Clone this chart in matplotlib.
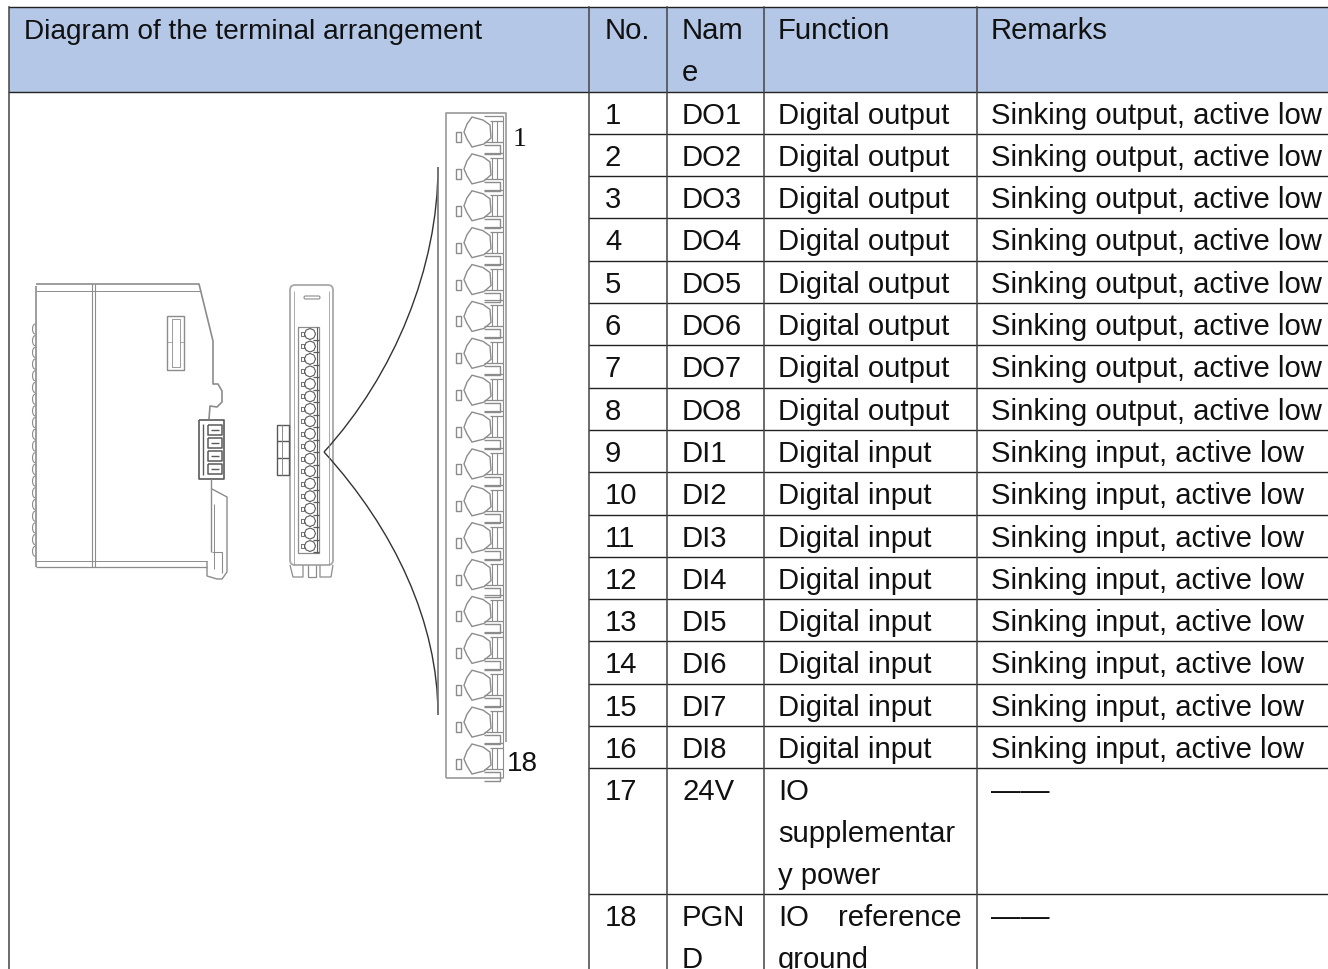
import matplotlib
matplotlib.use("Agg")
import matplotlib.pyplot as plt
from matplotlib.patches import FancyBboxPatch, PathPatch, Polygon, Rectangle
from matplotlib.path import Path
import numpy as np

plt.rcParams["font.family"] = ["Liberation Sans", "DejaVu Sans"]

header = ["Diagram of the terminal arrangement", "No.", "Nam\ne", "Function", "Remarks"]
numbers = [str(i) for i in range(1, 19)]
names = ["DO1", "DO2", "DO3", "DO4", "DO5", "DO6", "DO7", "DO8",
         "DI1", "DI2", "DI3", "DI4", "DI5", "DI6", "DI7", "DI8", "24V", "PGN\nD"]
functions = ["Digital output"] * 8 + ["Digital input"] * 8 + ["IO\nsupplementar\ny power", "IO\nground"]
remarks = ["Sinking output, active low"] * 8 + ["Sinking input, active low"] * 8 + ["——", "——"]

row_lines = [93, 135, 177, 219, 262, 304, 346, 389, 431, 473, 516, 558, 600, 642, 685, 727, 769, 895]
col_lines = [9, 589, 667, 764, 977]
text_x = [24, 605, 682, 778, 991]

W, H = 1328, 970
FS = 21.1
INK = "#111111"
ART = "#8c8c8c"
DARK = "#5a5a5a"

fig = plt.figure(figsize=(W / 100, H / 100), dpi=100)
ax = fig.add_axes([0, 0, 1, 1])
ax.set_xlim(0, W)
ax.set_ylim(H, 0)
ax.axis("off")


def cell(x, top, txt, fs=FS):
    for j, line in enumerate(txt.split("\n")):
        ax.text(x, top + 31 + j * 42, line, fontsize=fs, color=INK, va="baseline", ha="left")


def art(xs, ys, lw=1.0, color=ART):
    ax.plot(xs, ys, color=color, lw=lw, solid_capstyle="butt")


def box(x0, y0, x1, y1, lw=1.0, color=ART):
    art([x0, x1, x1, x0, x0], [y0, y0, y1, y1, y0], lw, color)


# table
ax.add_patch(Rectangle((9, 8), W - 9, 85, fc="#B4C7E7", ec="none", zorder=0))
for y in [8, 93] + row_lines[1:]:
    x0 = 9 if y in (8, 93) else 589
    ax.plot([x0, W], [y, y], color="#222222", lw=1.0, zorder=1)
for x in col_lines:
    ax.plot([x, x], [8, H], color="#444444", lw=1.1, zorder=1)

cell(text_x[0], 8, header[0], 20.15)
for x, txt in zip(text_x[1:], header[1:]):
    cell(x, 8, txt)
for i, top in enumerate(row_lines):
    cell(text_x[1], top, numbers[i])
    cell(text_x[2], top, names[i])
    if i == 17:
        ax.text(text_x[3], top + 31, "IO", fontsize=FS, color=INK)
        ax.text(961, top + 31, "reference", fontsize=FS, color=INK, ha="right")
        ax.text(text_x[3], top + 73, "ground", fontsize=FS, color=INK)
    else:
        cell(text_x[3], top, functions[i])
    cell(text_x[4], top, remarks[i])

# side view of the module
art([36, 36], [287, 568], 1.2)
art([36, 199, 213, 213, 218, 222, 222, 217, 210, 209],
    [285, 285, 342, 385, 385, 392, 403, 408, 407, 420], 1.2)
art([36, 201], [292, 292], 0.7)
art([36, 207], [562, 562], 0.7)
art([36, 207], [568, 568], 0.9)
art([92, 92], [285, 568], 0.8)
art([95, 95], [285, 568], 0.8)
box(167, 317, 184, 371)
box(172, 320, 180, 368, 0.6)
art([167, 172], [343, 343], 0.5)
art([180, 184], [343, 343], 0.5)

# connector
box(199, 421, 224, 480, 1.2, DARK)
for k in range(4):
    box(208, 426 + k * 13, 222, 436 + k * 13, 1.1, DARK)
    art([211, 219], [431 + k * 13, 431 + k * 13], 1.0, DARK)
art([203, 203], [425, 476], 1.0, DARK)

# lower latch
art([211, 211], [480, 553])
art([212, 227, 227, 222, 217, 207, 207], [490, 498, 573, 580, 580, 577, 562])
art([214, 214], [505, 570], 0.7)
art([212, 222, 222], [553, 553, 574], 0.8)

# scallops on the left edge
for y in np.arange(325, 548, 11.7):
    t = np.linspace(0, np.pi, 9)
    ax.plot(35 - 2.5 * np.sin(t), y + 5 * (1 - np.cos(t)), color=ART, lw=0.8)

# front view
ax.add_patch(FancyBboxPatch((290, 286), 43, 280, boxstyle="round,pad=0,rounding_size=5",
                            fc="none", ec="#a8a8a8", lw=1.3))
art([294, 294], [292, 566], 0.5)
art([329, 329], [292, 566], 0.5)
ax.add_patch(FancyBboxPatch((304, 297), 16, 3, boxstyle="round,pad=0,rounding_size=1.5",
                            fc="none", ec=ART, lw=0.8))
box(298, 328, 319, 554, 0.9)
art([317, 317], [328, 554], 0.8, DARK)
for y in np.linspace(335, 547, 18):
    t = np.linspace(0, 2 * np.pi, 9)
    art(310 + 5.5 * np.cos(t), y + 5.5 * np.sin(t), 0.8, DARK)
    box(301, y - 2, 304, y + 2, 0.6, DARK)
    art([313, 319], [y + 6, y + 6], 0.9, DARK)
box(277, 426, 289, 476, 1.0, DARK)
for y in [442, 459]:
    art([277, 289], [y, y], 1.0, DARK)
art([282, 282], [426, 476], 0.7)
art([290, 293, 303, 303], [566, 578, 578, 566], 0.9)
art([308, 308, 316, 316], [566, 578, 578, 566], 0.9)
art([320, 320, 331, 333], [566, 578, 578, 566], 0.9)

# curves from the strip to the enlarged terminals
art([438, 438], [168, 716], 1.2, "#777777")
for end in [168, 716]:
    mid = end + (453 - end) * 0.35
    ax.add_patch(PathPatch(Path([(324, 453), (395, 375 if end < 453 else 531), (438, mid), (438, end)],
                                [Path.MOVETO, Path.CURVE4, Path.CURVE4, Path.CURVE4]),
                           fc="none", ec="#333333", lw=1.0))

# enlarged terminal strip
art([446, 446, 506, 506], [779, 114, 114, 743], 1.3, "#a0a0a0")
art([446, 503], [779, 779], 1.3, "#a0a0a0")
art([503, 503], [117, 779], 0.8)
for y in np.linspace(138, 765, 18):
    box(456, y - 5, 461, y + 5, 1.0)
    octagon = [(472, y - 20), (483, y - 17), (490, y - 12), (491, y + 1), (484, y + 7),
               (472, y + 10), (467, y + 2), (464, y - 5), (467, y - 13)]
    ax.add_patch(Polygon(octagon, closed=True, fc="none", ec=ART, lw=1.0))
    art([484, 503], [y - 21, y - 21], 0.9)
    art([490, 503], [y - 16, y - 16], 0.9)
    art([484, 503], [y + 5, y + 5], 0.9)
    art([492, 492], [y - 16, y + 5], 0.8)
    art([497, 497], [y - 16, y + 5], 0.8)
    art([484, 500, 500, 484], [y + 8, y + 8, y + 17, y + 17], 1.0)

ax.text(513, 146, "1", fontsize=20, family="Liberation Serif", color=INK, va="baseline")
ax.text(507, 771, "18", fontsize=20, color=INK, va="baseline")

fig.savefig("out.png", dpi=100)
